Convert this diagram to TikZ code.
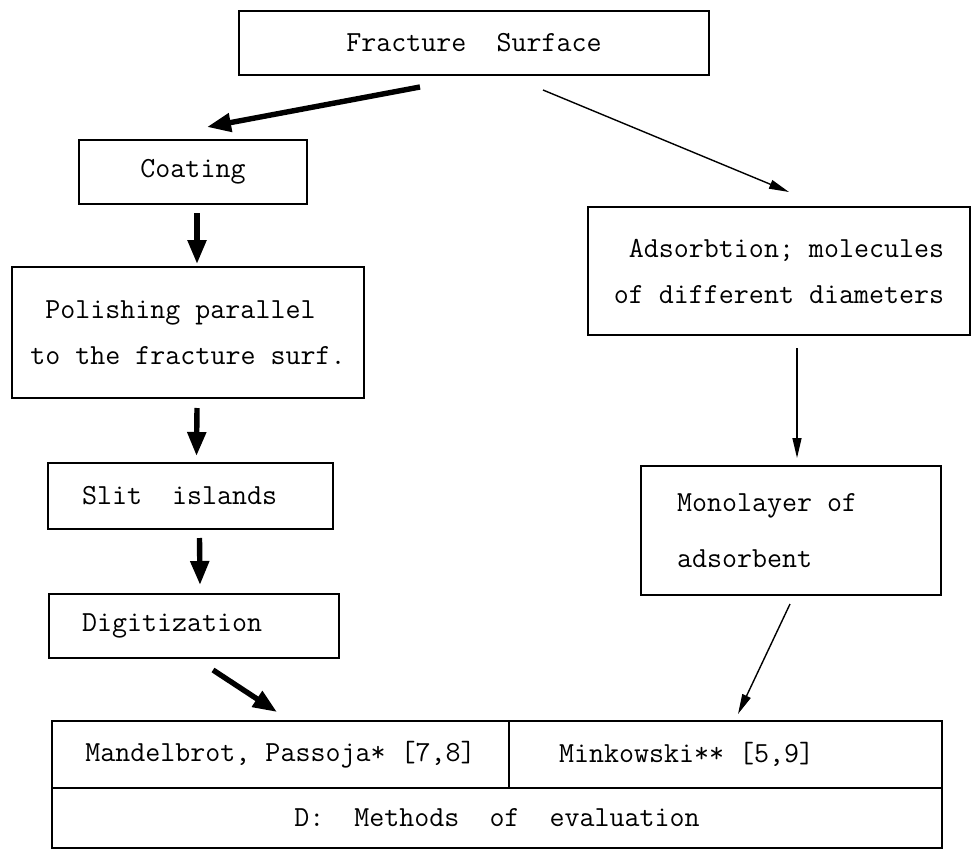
\documentclass[tikz,border=0pt]{standalone}
\usetikzlibrary{arrows.meta}
\newcommand\wsp{\spaceskip=0pt\xspaceskip=0pt\relax}
\begin{document}
\begin{tikzpicture}[x=0.5pt,y=-0.5pt,
    box/.style={draw, line width=1pt, inner sep=0pt, font=\ttfamily\fontsize{14.57}{23}\selectfont},
    lbox/.style 2 args={box, align=left, inner xsep=#1, text width=#2},
    fat/.style={line width=2.7pt, -{Triangle[length=12pt,width=9pt]}},
    slim/.style={line width=0.7pt, -{Triangle[length=10pt,width=4.5pt]}}]
    \useasboundingbox (0,0) rectangle (978,850);
    % coordinates in pixels of the 978 x 850 page, y downwards
    \node[box, minimum width=235pt, minimum height=32pt] (frac) at (474,43) {Fracture\ \ Surface};
    \node[box, minimum width=114pt, minimum height=32pt] (coat) at (193,172) {Coating};
    \node[box, minimum width=176pt, minimum height=65.5pt, align=left] (pol) at (188,332.5) {~Polishing parallel\\to the fracture surf.};
    \node[lbox={17pt}{108.5pt}, minimum width=142.5pt, minimum height=33pt] (slit) at (190.5,496) {\wsp Slit\ \ islands};
    \node[lbox={16.5pt}{112pt}, minimum width=145pt, minimum height=32pt] (dig) at (194,626) {Digitization};
    \node[box, minimum width=191pt, minimum height=64pt, align=right] (ads) at (779,271) {Adsorbtion; molecules\\of different diameters};
    \node[lbox={18pt}{114pt}, minimum width=150pt, minimum height=64.5pt] (mono) at (791,530.5) {\wsp Monolayer of\\[5pt]adsorbent};
    \node[box, minimum width=228.5pt, minimum height=33.5pt] (mand) at (280.5,754.5) {Mandelbrot, Passoja* [7,8]};
    \node[lbox={25pt}{166.5pt}, minimum width=216.5pt, minimum height=33.5pt] (mink) at (725.5,754.5) {\wsp Minkowski** [5,9]};
    \node[box, minimum width=445pt, minimum height=30pt] (eval) at (497,818) {D:\ \ Methods\ \ of\ \ evaluation};

    \draw[fat] ([xshift=-27pt,yshift=-5.5pt]frac.south) -- ([xshift=7pt,yshift=6pt]coat.north);
    \draw[slim] ([xshift=34.5pt,yshift=-7pt]frac.south) -- ([xshift=5pt,yshift=7pt]ads.north);
    \draw[fat] ([xshift=2pt,yshift=-4pt]coat.south) -- ([xshift=4.5pt,yshift=1pt]pol.north);
    \draw[fat] ([xshift=4.5pt,yshift=-4.5pt]pol.south) -- ([xshift=3pt,yshift=3pt]slit.north);
    \draw[fat] ([xshift=4.5pt,yshift=-4pt]slit.south) -- ([xshift=3pt,yshift=4pt]dig.north);
    \draw[fat] ([xshift=9.5pt,yshift=-5.5pt]dig.south) -- ([xshift=-1.75pt,yshift=4pt]mand.north);
    \draw[slim] ([xshift=9pt,yshift=-6pt]ads.south) -- ([xshift=3pt,yshift=3.5pt]mono.north);
    \draw[slim] ([xshift=-0.5pt,yshift=-4pt]mono.south) -- ([xshift=6.25pt,yshift=3pt]mink.north);
\end{tikzpicture}
\end{document}
